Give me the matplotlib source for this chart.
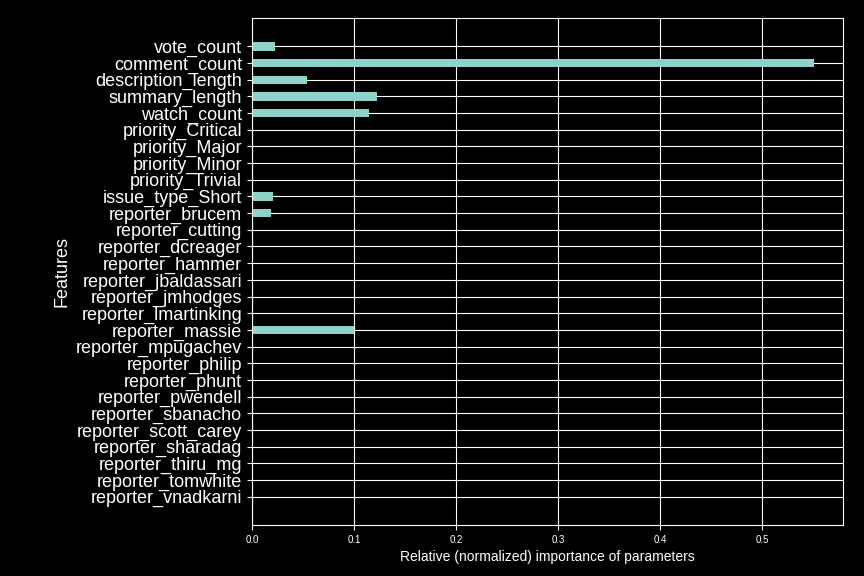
import matplotlib.pyplot as plt

plt.style.use('dark_background')
plt.rcParams['font.family'] = ['Liberation Sans', 'DejaVu Sans']

features = ['vote_count', 'comment_count', 'description_length', 'summary_length',
            'watch_count', 'priority_Critical', 'priority_Major', 'priority_Minor',
            'priority_Trivial', 'issue_type_Short', 'reporter_brucem', 'reporter_cutting',
            'reporter_dcreager', 'reporter_hammer', 'reporter_jbaldassari',
            'reporter_jmhodges', 'reporter_lmartinking', 'reporter_massie',
            'reporter_mpugachev', 'reporter_philip', 'reporter_phunt',
            'reporter_pwendell', 'reporter_sbanacho', 'reporter_scott_carey',
            'reporter_sharadag', 'reporter_thiru_mg', 'reporter_tomwhite',
            'reporter_vnadkarni']
importance = [0.023, 0.551, 0.054, 0.122, 0.115, 0, 0, 0, 0, 0.021, 0.019, 0, 0, 0,
              0, 0, 0, 0.100, 0, 0, 0, 0, 0, 0, 0, 0, 0, 0]

fig = plt.figure(figsize=(8.64, 5.76), dpi=100)
ax = fig.add_axes([252/864, 1-525/576, (843-252)/864, (525-18)/576])
pos = list(range(len(features)))
ax.barh(pos, importance, height=0.5, color='#8dd3c7', zorder=2)
ax.set_yticks(pos)
ax.set_yticklabels(features, fontsize=13)
ax.set_ylim(28.7, -1.7)
ax.set_xlim(0, 0.579)
ax.tick_params(axis='x', labelsize=7)
ax.grid(True, color='white', linewidth=0.8, zorder=0)
ax.set_axisbelow(True)
ax.set_xlabel('Relative (normalized) importance of parameters', fontsize=10)
ax.set_ylabel('Features', fontsize=13)
fig.savefig('out.png', dpi=100)
